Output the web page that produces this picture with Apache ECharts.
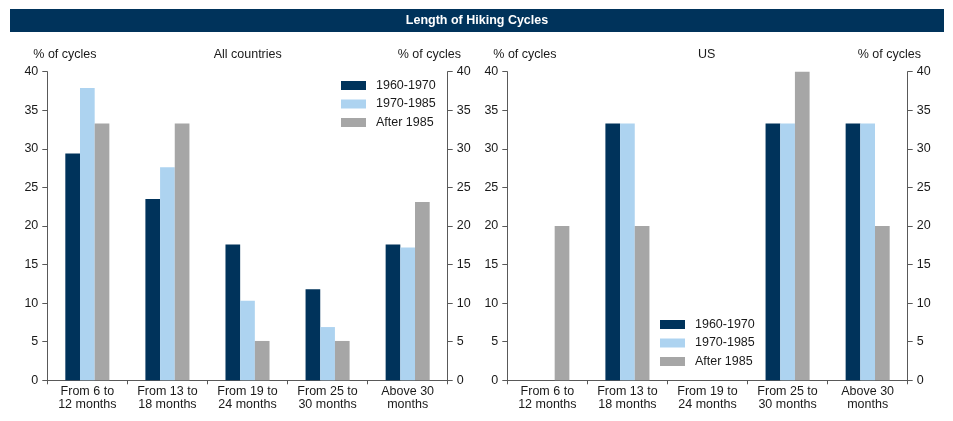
<!DOCTYPE html>
<html>
<head>
<meta charset="utf-8">
<script src="https://cdn.jsdelivr.net/npm/echarts@6/dist/echarts.min.js"></script>
<style>
html,body{margin:0;padding:0;background:#fff;}
#chart{width:953px;height:421px;}
</style>
</head>
<body>
<div id="chart"></div>
<script>
var categories = ['From 6 to\n12 months', 'From 13 to\n18 months', 'From 19 to\n24 months', 'From 25 to\n30 months', 'Above 30\nmonths'];
var seriesNames = ['1960-1970', '1970-1985', 'After 1985'];
var allCountries1960 = [29.4, 23.5, 17.6, 11.8, 17.6];
var allCountries1970 = [37.9, 27.6, 10.3, 6.9, 17.2];
var allCountriesAfter1985 = [33.3, 33.3, 5.1, 5.1, 23.1];
var us1960 = [0, 33.3, 0, 33.3, 33.3];
var us1970 = [0, 33.3, 0, 33.3, 33.3];
var usAfter1985 = [20, 20, 0, 40, 20];
var colors = ['#00335B', '#ADD3F0', '#A6A6A6'];

var FONT = 'Liberation Sans, Arial, sans-serif';
var FS = 12.5;
var axisColor = '#595959';
var textColor = '#1a1a1a';

function xAxis(gi) {
  return {
    type: 'category', gridIndex: gi, data: categories,
    axisLine: {lineStyle: {color: axisColor, width: 1}},
    axisTick: {show: true, length: 4, lineStyle: {color: axisColor}},
    axisLabel: {color: textColor, fontFamily: FONT, fontSize: FS, lineHeight: 12.7, margin: 5, interval: 0}
  };
}
function yAxis(gi, pos) {
  return {
    type: 'value', gridIndex: gi, position: pos, min: 0, max: 40, interval: 5,
    axisLine: {show: true, lineStyle: {color: axisColor, width: 1}},
    axisTick: {show: true, length: 5, lineStyle: {color: axisColor}},
    axisLabel: {color: textColor, fontFamily: FONT, fontSize: FS, margin: 9},
    splitLine: {show: false}
  };
}
function bar(name, data, idx, xi, yi) {
  return {
    type: 'bar', name: name, data: data, xAxisIndex: xi, yAxisIndex: yi,
    barGap: '0%', barCategoryGap: '45%',
    itemStyle: {color: colors[idx]}
  };
}
function legend(left, top) {
  return {
    data: seriesNames, orient: 'vertical', left: left, top: top,
    itemWidth: 25, itemHeight: 9, itemGap: 5.5, padding: 0,
    icon: 'rect', selectedMode: false,
    textStyle: {color: textColor, fontFamily: FONT, fontSize: FS, padding: [0, 0, 0, 5]}
  };
}
function txt(x, y, s, align) {
  return {type: 'text', x: x, y: y, style: {text: s, fill: textColor, font: FS + 'px ' + FONT, textAlign: align, textVerticalAlign: 'middle'}};
}

var chart = echarts.init(document.getElementById('chart'), null, {renderer: 'canvas'});
chart.setOption({
  animation: false,
  backgroundColor: '#fff',
  grid: [
    {left: 47.3, right: 505.3, top: 71.7, bottom: 40.7},
    {left: 507.3, right: 45.3, top: 71.7, bottom: 40.7}
  ],
  xAxis: [xAxis(0), xAxis(1)],
  yAxis: [yAxis(0, 'left'), yAxis(0, 'right'), yAxis(1, 'left'), yAxis(1, 'right')],
  legend: [legend(341, 79), legend(660, 318)],
  series: [
    bar(seriesNames[0], allCountries1960, 0, 0, 0),
    bar(seriesNames[1], allCountries1970, 1, 0, 0),
    bar(seriesNames[2], allCountriesAfter1985, 2, 0, 0),
    bar(seriesNames[0], us1960, 0, 1, 2),
    bar(seriesNames[1], us1970, 1, 1, 2),
    bar(seriesNames[2], usAfter1985, 2, 1, 2)
  ],
  graphic: [
    {type: 'rect', shape: {x: 10, y: 9, width: 934, height: 23}, style: {fill: '#00335B'}},
    {type: 'text', x: 477, y: 21, style: {text: 'Length of Hiking Cycles', fill: '#fff', font: 'bold ' + FS + 'px ' + FONT, textAlign: 'center', textVerticalAlign: 'middle'}},
    txt(33.3, 54.7, '% of cycles', 'left'),
    txt(461, 54.7, '% of cycles', 'right'),
    txt(247.7, 54.7, 'All countries', 'center'),
    txt(493.3, 54.7, '% of cycles', 'left'),
    txt(921, 54.7, '% of cycles', 'right'),
    txt(706.7, 54.7, 'US', 'center')
  ]
});
</script>
</body>
</html>
